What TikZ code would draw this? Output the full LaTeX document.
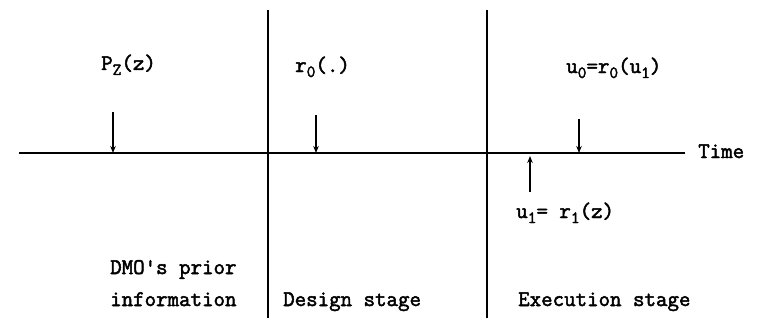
\documentclass[tikz,border=0pt]{standalone}
\usepackage{fontspec}
\newfontfamily\typewr[FakeBold=2.2]{Latin Modern Mono}
\usetikzlibrary{arrows.meta}
\newcommand{\tw}{\typewr\fontsize{22.3}{26}\selectfont}
\newcommand{\lo}[1]{\raisebox{-5pt}{\fontsize{17}{17}\selectfont #1}}
\begin{document}
\begin{tikzpicture}[x=1pt,y=-1pt,
  lbl/.style={anchor=base west,inner sep=0pt,font=\tw},
  rule/.style={line width=1.8pt},
  ptr/.style={line width=1.7pt,-{Stealth[length=7pt,width=5.5pt]}}]
\useasboundingbox (0,0) rectangle (759,321);
% time axis and stage dividers
\coordinate (t0) at (19,153);
\coordinate (t1) at (685,153);
\draw[rule] (t0) -- (t1);
\coordinate (d1top) at (268,10);
\coordinate (d1bot) at (268,318);
\coordinate (d2top) at (487,10);
\coordinate (d2bot) at (487,318);
\draw[rule] (d1top) -- (d1bot);
\draw[rule] (d2top) -- (d2bot);
\node[lbl] (time) at (698,158) {Time};
% events on the axis
\node[lbl] (pz) at (101,70) {P\lo{Z}(z)};
\node[lbl] (r0) at (295,72) {r\lo{0}(.)};
\node[lbl] (u0) at (566,73) {u\lo{0}=r\lo{0}(u\lo{1})};
\node[lbl] (u1) at (516,218) {u\lo{1}= r\lo{1}(z)};
\coordinate (a1) at (113,112); \coordinate (b1) at (113,153);
\coordinate (a2) at (316,115); \coordinate (b2) at (316,153);
\coordinate (a3) at (579,119); \coordinate (b3) at (579,153);
\coordinate (a4) at (530,192); \coordinate (b4) at (530,156);
\draw[ptr] (a1) -- (b1);
\draw[ptr] (a2) -- (b2);
\draw[ptr] (a3) -- (b3);
\draw[ptr] (a4) -- (b4);
% stage names
\node[lbl] (dmo) at (110,274) {DMO's prior};
\node[lbl] (info) at (110,306) {information};
\node[lbl] (design) at (283,306) {Design stage};
\node[lbl] (exec) at (518,306) {Execution stage};
\end{tikzpicture}
\end{document}
